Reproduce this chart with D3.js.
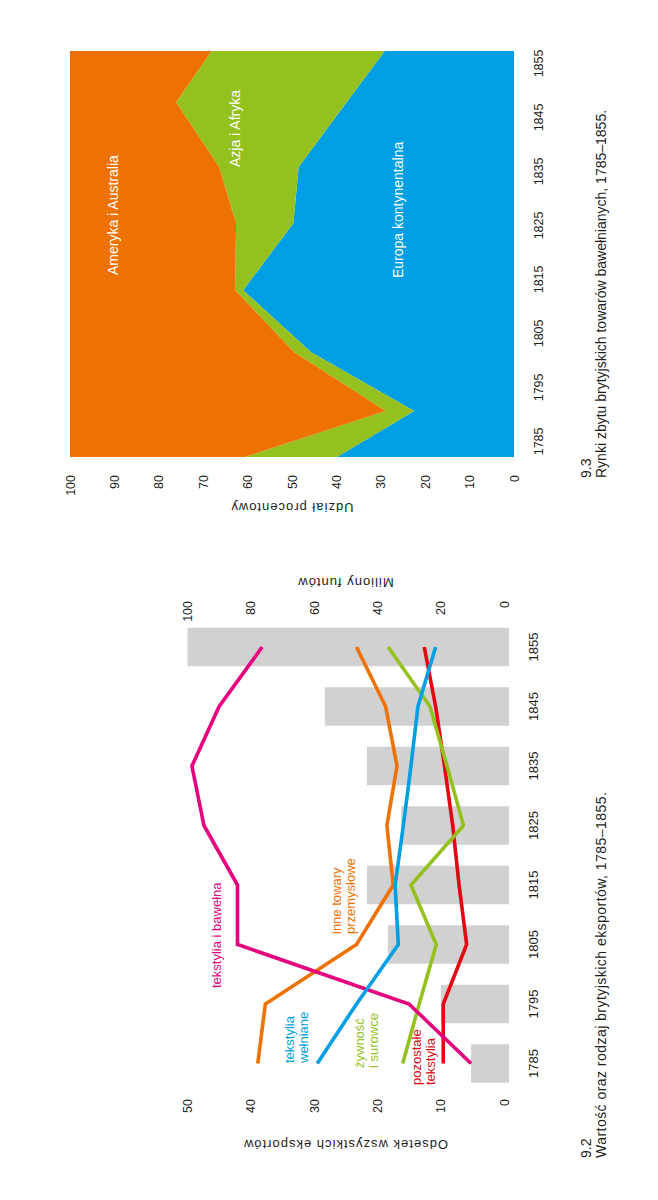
<!DOCTYPE html>
<html><head><meta charset="utf-8">
<script src="https://cdn.jsdelivr.net/npm/d3@7"></script>
<style>
html,body{margin:0;padding:0;background:#fff;}
svg{display:block;font-family:"Liberation Sans",Arial,Helvetica,sans-serif;}
</style></head><body>
<svg id="c" width="658" height="1200"></svg>
<script>
// ---------- DATA: 9.2 ----------
const exportYears = [1785,1795,1805,1815,1825,1835,1845,1855];
const exportTotal = [10.4,19.9,36.7,43.3,32.5,43.3,56.6,100]; // mln funtów
const cottonShare = [5.2,15.0,42.1,42.1,47.4,49.3,45.0,38.2];
const otherManufShare = [38.9,37.7,23.3,17.5,18.5,16.9,18.7,23.3];
const woolShare = [29.5,23.3,16.7,17.2,15.9,14.7,13.6,10.8];
const foodShare = [16.0,13.4,10.7,14.7,6.4,9.0,11.7,18.3];
const otherTextShare = [9.6,9.6,5.9,7.1,8.1,9.4,10.8,12.6];
const pctTicks = [0,10,20,30,40,50];
const milTicks = [0,20,40,60,80,100];

// ---------- DATA: 9.3 ----------
const marketYears = [1782.2,1790.7,1801.6,1813.1,1825.5,1835.9,1847.9,1857.4];
const europe = [39.9,22.5,45.7,61.0,49.7,48.5,37.7,29.1];
const asiaAfrica = [20.7,6.4,3.8,1.8,12.9,17.9,38.4,39.0];
const americaAustralia = [39.4,71.1,50.5,37.2,37.4,33.6,23.9,31.9];
const marketTickYears = [1785,1795,1805,1815,1825,1835,1845,1855];
const shareTicks = [0,10,20,30,40,50,60,70,80,90,100];

const C = {pink:"#e6007e", orange:"#ee7203", blue:"#009fe3", green:"#95c11f", red:"#e30613", bar:"#d1d1d1", text:"#1d1d1b"};

const svg = d3.select("#c");
// whole page is rotated: work in an unrotated 1200x658 frame
const g = svg.append("g").attr("transform","translate(0,1200) rotate(-90)");

// ================= Chart 9.2 =================
const xB = d3.scaleBand().domain(exportYears).range([106.75,582.75]).paddingInner(0.353).paddingOuter(0.1765);
const yP = d3.scaleLinear().domain([0,50]).range([504,187.5]);
const yM = d3.scaleLinear().domain([0,100]).range([504,187.5]);
const bw = xB.bandwidth();
const barBase = 5;

g.append("g").selectAll("rect").data(exportYears).join("rect")
  .attr("x", d=>xB(d)).attr("width", bw)
  .attr("y", (d,i)=>yM(exportTotal[i]))
  .attr("height", (d,i)=>yM(0)+barBase-yM(exportTotal[i]))
  .attr("fill", C.bar);

const line = d3.line().x((d,i)=>xB(exportYears[i])+bw/2).y(d=>yP(d));
const series = [
  {v:otherManufShare, c:C.orange},
  {v:otherTextShare, c:C.red},
  {v:foodShare, c:C.green},
  {v:cottonShare, c:C.pink},
  {v:woolShare, c:C.blue}
];
g.append("g").selectAll("path").data(series).join("path")
  .attr("d", d=>line(d.v)).attr("fill","none").attr("stroke", d=>d.c)
  .attr("stroke-width",3.6).attr("stroke-linejoin","miter");

// axes
function styleAxis(sel, size){
  sel.select(".domain").remove();
  sel.selectAll("text").attr("fill",C.text).attr("font-size",size).attr("font-family","Liberation Sans, Arial, sans-serif");
}
g.append("g").attr("transform","translate(101,0)")
  .call(d3.axisLeft(yP).tickValues(pctTicks).tickSize(0).tickPadding(0))
  .call(s=>styleAxis(s,12.5));
g.append("g").attr("transform","translate(599,0)")
  .call(d3.axisLeft(yM).tickValues(milTicks).tickSize(0).tickPadding(0))
  .call(s=>styleAxis(s,12.5));
g.append("g").attr("transform","translate(0,538)")
  .call(d3.axisBottom(xB).tickSize(0).tickPadding(0))
  .call(s=>{styleAxis(s,13); s.selectAll("text").attr("dy",0);});

// axis titles
function title(u,v,txt){
  g.append("text").attr("x",u).attr("y",v).attr("transform",`rotate(-90,${u},${v})`)
   .attr("text-anchor","middle").attr("font-size",13).attr("letter-spacing",1)
   .attr("fill",C.text).text(txt);
}
title(60,345.5,"Odsetek wszystkich eksportów");
title(622.5,345.5,"Miliony funtów");

// series labels
function label(u,v,lines,color,size,lh){
  const t = g.append("text").attr("font-size",size).attr("fill",color);
  lines.forEach((l,i)=>t.append("tspan").attr("x",u).attr("y",v+i*lh).text(l));
  return t;
}
label(212,221,["tekstylia i bawełna"],C.pink,13,14);
label(266,341,["inne towary","przemysłowe"],C.orange,13,14);
label(137,294,["tekstylia","wełniane"],C.blue,13,14);
label(132,364,["żywność","i surowce"],C.green,13,14);
label(115,421,["pozostałe","tekstylia"],C.red,13,14);

// caption
const cap92 = label(42,591,["9.2","Wartość oraz rodzaj brytyjskich eksportów, 1785–1855."],C.text,14,15);
cap92.selectAll("tspan").filter((d,i)=>i===1).attr("textLength",366).attr("lengthAdjust","spacing");

// ================= Chart 9.3 =================
const xA = d3.scaleLinear().domain([1782.2,1857.4]).range([743,1149]);
const yA = d3.scaleLinear().domain([0,100]).range([514,70]);
const rows = marketYears.map((y,i)=>({year:y, europe:europe[i], asia:asiaAfrica[i], america:americaAustralia[i]}));
const stack = d3.stack().keys(["europe","asia","america"])(rows);
const area = d3.area().x(d=>xA(d.data.year)).y0(d=>yA(d[0])).y1(d=>yA(Math.min(100,d[1])));
const areaColors = {europe:C.blue, asia:C.green, america:C.orange};
g.append("g").selectAll("path").data(stack).join("path")
  .attr("d", area).attr("fill", d=>areaColors[d.key]);

g.append("g").attr("transform","translate(725,0)")
  .call(d3.axisLeft(yA).tickValues(shareTicks).tickSize(0).tickPadding(0))
  .call(s=>styleAxis(s,12.5));
g.append("g").attr("transform","translate(0,543)")
  .call(d3.axisBottom(xA).tickValues(marketTickYears).tickFormat(d3.format("d")).tickSize(0).tickPadding(0))
  .call(s=>{styleAxis(s,12.5); s.selectAll("text").attr("dy",0);});

title(697,292,"Udział procentowy");

label(925,118,["Ameryka i Australia"],"#fff",14,15);
label(1033,240,["Azja i Afryka"],"#fff",14,15);
label(922,403,["Europa kontynentalna"],"#fff",14,15);

label(722,591,["9.3","Rynki zbytu brytyjskich towarów bawełnianych, 1785–1855."],C.text,14,15);
</script>
</body></html>
